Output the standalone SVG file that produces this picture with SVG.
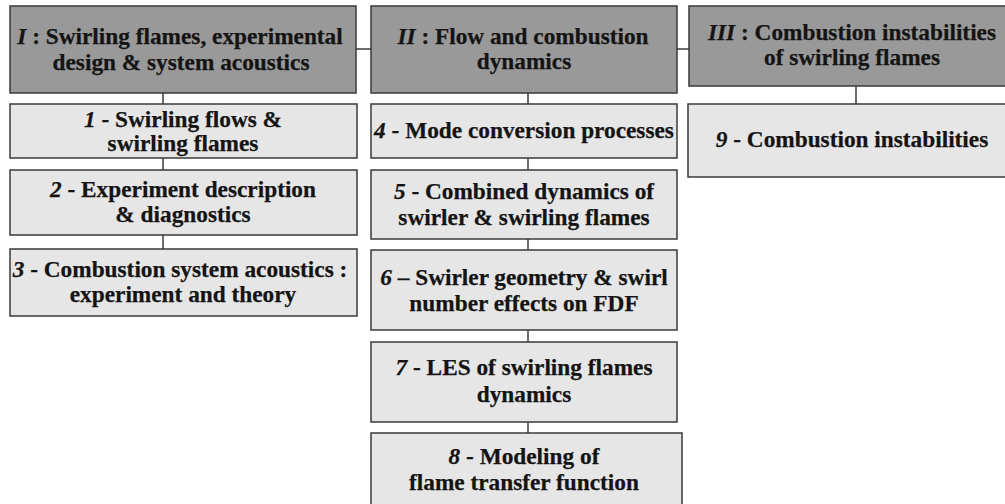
<svg xmlns="http://www.w3.org/2000/svg" width="1005" height="504" viewBox="0 0 1005 504">
<style>
.hd{fill:#999999;stroke:#3a3a3a;stroke-width:1.5}
.bx{fill:#e6e6e6;stroke:#3a3a3a;stroke-width:1.5}
.t{font-family:'Liberation Serif','Times New Roman',serif;font-weight:bold;font-size:23.3px;fill:#141414;stroke:#141414;stroke-width:0.25;text-anchor:middle}
.i{font-style:italic}
.c{stroke:#3a3a3a;stroke-width:1.5;fill:none}
</style>
<rect width="1005" height="504" fill="#ffffff"/>
<g id="connectors">
<line class="c" x1="356" y1="49" x2="371" y2="49"/>
<line class="c" x1="677" y1="49" x2="689" y2="49"/>
<line class="c" x1="163" y1="93" x2="163" y2="104"/>
<line class="c" x1="163" y1="158" x2="163" y2="170"/>
<line class="c" x1="163" y1="235" x2="163" y2="249"/>
<line class="c" x1="528" y1="93" x2="528" y2="104"/>
<line class="c" x1="528" y1="158" x2="528" y2="170"/>
<line class="c" x1="528" y1="239" x2="528" y2="250"/>
<line class="c" x1="528" y1="330" x2="528" y2="342"/>
<line class="c" x1="528" y1="422" x2="528" y2="433"/>
<line class="c" x1="856" y1="86" x2="856" y2="104"/>
</g>
<g id="nodeI">
<rect class="hd" x="10" y="6" width="346" height="87"/>
<text class="t" x="180" y="44"><tspan class="i">I</tspan> : Swirling flames, experimental</text>
<text class="t" x="181" y="70">design &amp; system acoustics</text>
</g>
<g id="node1">
<rect class="bx" x="10" y="104" width="347" height="54"/>
<text class="t" x="183" y="127"><tspan class="i">1</tspan> - Swirling flows &amp;</text>
<text class="t" x="183" y="151">swirling flames</text>
</g>
<g id="node2">
<rect class="bx" x="10" y="170" width="347" height="65"/>
<text class="t" x="183" y="197"><tspan class="i">2</tspan> - Experiment description</text>
<text class="t" x="183" y="222">&amp; diagnostics</text>
</g>
<g id="node3">
<rect class="bx" x="10" y="249" width="347" height="67"/>
<text class="t" x="180" y="277"><tspan class="i">3</tspan> - Combustion system acoustics :</text>
<text class="t" x="183" y="302">experiment and theory</text>
</g>
<g id="nodeII">
<rect class="hd" x="371" y="6" width="306" height="87"/>
<text class="t" x="523" y="44"><tspan class="i">II</tspan> : Flow and combustion</text>
<text class="t" x="524" y="69">dynamics</text>
</g>
<g id="node4">
<rect class="bx" x="371" y="104" width="306" height="54"/>
<text class="t" x="524" y="138"><tspan class="i">4</tspan> - Mode conversion processes</text>
</g>
<g id="node5">
<rect class="bx" x="371" y="170" width="306" height="69"/>
<text class="t" x="524" y="199"><tspan class="i">5</tspan> - Combined dynamics of</text>
<text class="t" x="524" y="225">swirler &amp; swirling flames</text>
</g>
<g id="node6">
<rect class="bx" x="371" y="250" width="306" height="80"/>
<text class="t" x="524" y="285"><tspan class="i">6</tspan> – Swirler geometry &amp; swirl</text>
<text class="t" x="524" y="311">number effects on FDF</text>
</g>
<g id="node7">
<rect class="bx" x="371" y="342" width="306" height="80"/>
<text class="t" x="524" y="375"><tspan class="i">7</tspan> - LES of swirling flames</text>
<text class="t" x="524" y="402">dynamics</text>
</g>
<g id="node8">
<rect class="bx" x="371" y="433" width="311" height="80"/>
<text class="t" x="524" y="464"><tspan class="i">8</tspan> - Modeling of</text>
<text class="t" x="524" y="490">flame transfer function</text>
</g>
<g id="nodeIII">
<rect class="hd" x="689" y="6" width="326" height="80"/>
<text class="t" x="852" y="40"><tspan class="i">III</tspan> : Combustion instabilities</text>
<text class="t" x="852" y="65">of swirling flames</text>
</g>
<g id="node9">
<rect class="bx" x="688" y="104" width="327" height="73"/>
<text class="t" x="852" y="147"><tspan class="i">9</tspan> - Combustion instabilities</text>
</g>
</svg>
